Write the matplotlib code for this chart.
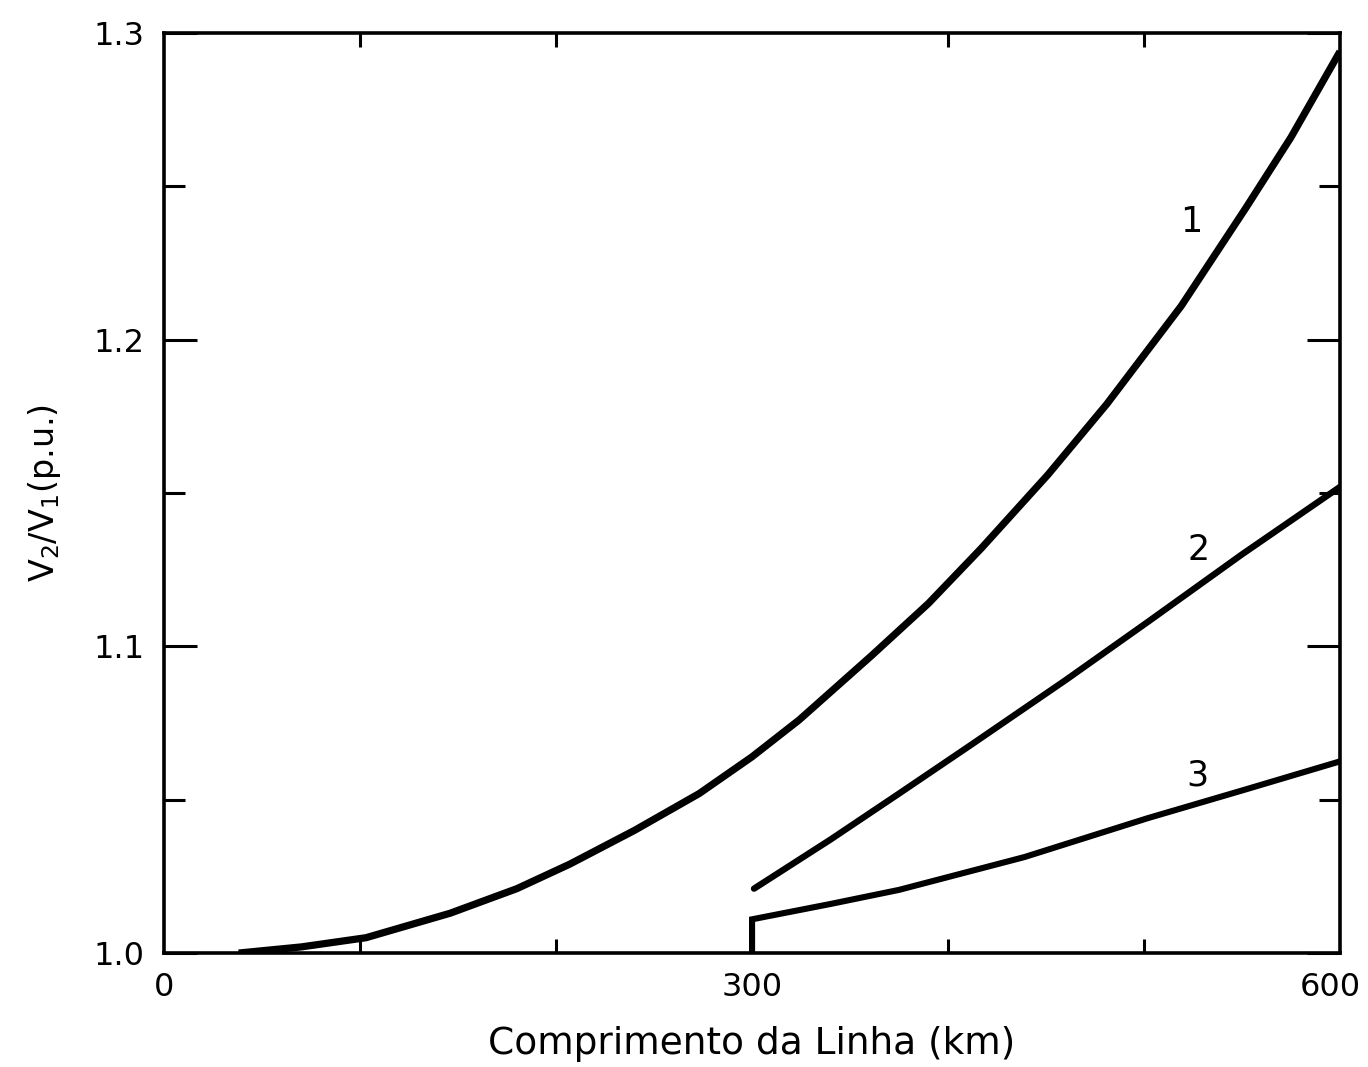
import matplotlib
matplotlib.use("Agg")
import matplotlib.pyplot as plt
import matplotlib.transforms as mtransforms

# ---- data ----
curve1_km = [38, 70, 103, 146, 180, 207, 240, 273, 300, 324, 361, 390, 417, 451, 481, 519, 552, 575, 600]
curve1_v  = [1.000, 1.002, 1.005, 1.013, 1.021, 1.029, 1.040, 1.052, 1.064, 1.076, 1.097,
             1.114, 1.132, 1.156, 1.179, 1.211, 1.243, 1.266, 1.294]

curve2_km = [301, 340, 375, 412, 460, 502, 550, 600]
curve2_v  = [1.021, 1.037, 1.052, 1.068, 1.089, 1.108, 1.130, 1.152]

curve3_km = [300, 300, 340, 375, 439, 502, 550, 600]
curve3_v  = [1.000, 1.011, 1.016, 1.0206, 1.0313, 1.044, 1.053, 1.0625]

curve_labels = ["1", "2", "3"]
label_km = [524, 528, 527]
label_v = [1.2385, 1.1315, 1.058]

x_major = [0, 300, 600]
x_major_labels = ["0", "300", "600"]
x_minor = [100, 200, 400, 500]
y_major = [1.0, 1.1, 1.2, 1.3]
y_major_labels = ["1.0", "1.1", "1.2", "1.3"]
y_minor = [1.05, 1.15, 1.25]

plt.rcParams['font.family'] = ['DejaVu Sans']

fig = plt.figure(figsize=(13.68, 10.67), dpi=100)
ax = fig.add_axes([0.12, 0.1068, 0.8595, 0.8622])

ax.plot(curve1_km, curve1_v, color='black', lw=5.2, solid_capstyle='butt', solid_joinstyle='round')
ax.plot(curve2_km, curve2_v, color='black', lw=4.6, solid_capstyle='round', solid_joinstyle='round')
ax.plot(curve3_km, curve3_v, color='black', lw=4.4, solid_capstyle='butt', solid_joinstyle='miter')

for t, xk, yv in zip(curve_labels, label_km, label_v):
    ax.text(xk, yv, t, fontsize=25, ha='center', va='center')

ax.set_xlim(0, 600)
ax.set_ylim(1.0, 1.3)

ax.set_xticks(x_major)
ax.set_xticklabels(x_major_labels)
ax.set_xticks(x_minor, minor=True)
ax.set_yticks(y_major)
ax.set_yticklabels(y_major_labels)
ax.set_yticks(y_minor, minor=True)

ax.tick_params(axis='both', which='both', direction='in', top=True, right=True,
               width=2.2, color='black')
ax.tick_params(axis='x', which='major', length=0, pad=14, labelsize=23)
ax.tick_params(axis='x', which='minor', length=10)
ax.tick_params(axis='y', which='major', length=24, pad=14, labelsize=23)
ax.tick_params(axis='y', which='minor', length=15)

# nudge the last x tick label inward so it stays inside the figure
last = ax.get_xticklabels()[-1]
last.set_transform(last.get_transform() + mtransforms.ScaledTranslation(-10 / 100, 0, fig.dpi_scale_trans))

for s in ax.spines.values():
    s.set_linewidth(2.6)

ax.set_xlabel("Comprimento da Linha (km)", fontsize=27, labelpad=16)
ax.set_ylabel(r"$\mathregular{V_2/V_1}$(p.u.)", fontsize=24, labelpad=22)

fig.savefig("out.png", dpi=100, facecolor='white')
